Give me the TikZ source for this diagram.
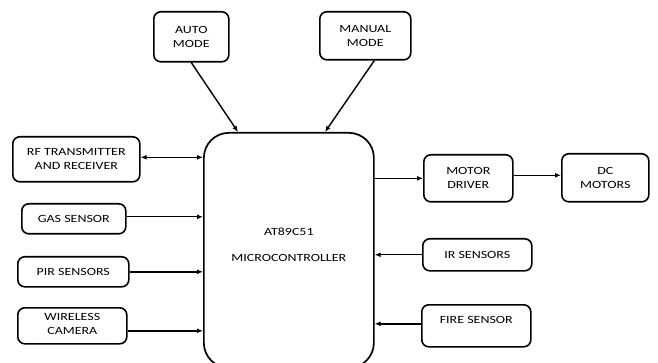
\documentclass[tikz,border=0pt]{standalone}
\usepackage{fontspec}
\setmainfont[FakeStretch=1.27]{Carlito}
\usetikzlibrary{arrows.meta,positioning,calc}

\begin{document}
\begin{tikzpicture}[x=1pt, y=-1pt,
  every node/.style={font=\fontsize{11}{14}\selectfont},
  blok/.style={draw, line width=1.6pt, rounded corners=7pt, align=center,
    anchor=north west, inner sep=0pt},
  mcubox/.style={draw, line width=1.7pt, rounded corners=25pt, align=center,
    anchor=north west, inner sep=0pt, minimum width=170pt, minimum height=235pt},
  pijl/.style={-{Latex[length=6pt, width=5pt]}, line width=1.4pt},
  tweepijl/.style={{Latex[length=6pt, width=5pt]}-{Latex[length=6pt, width=5pt]}, line width=1.4pt}
]
\useasboundingbox (0,0) rectangle (658,363);
% controller in the middle
\node[mcubox, text depth=11pt] (mcu) at (203,132) {AT89C51\\[12pt]MICROCONTROLLER};
% modes on top
\node[blok, minimum width=75pt, minimum height=50pt] (auto) at (153,11) {AUTO\\MODE};
\node[blok, minimum width=91pt, minimum height=48pt] (manual) at (319,11) {MANUAL\\MODE};
% inputs on the left
\node[blok, minimum width=127pt, minimum height=45pt] (rf) at (12,136) {RF TRANSMITTER\\AND RECEIVER};
\node[blok, minimum width=104pt, minimum height=30pt] (gas) at (21,203) {GAS SENSOR};
\node[blok, minimum width=111pt, minimum height=30pt] (pir) at (17,256) {PIR SENSORS};
\node[blok, minimum width=109pt, minimum height=36pt, text height=17pt] (camera) at (17,307) {WIRELESS\\CAMERA};
% right side
\node[blok, minimum width=89pt, minimum height=47pt] (motor) at (423,154) {MOTOR\\DRIVER};
\node[blok, minimum width=87pt, minimum height=48pt] (dc) at (561,153) {DC\\MOTORS};
\node[blok, minimum width=109pt, minimum height=32pt] (ir) at (422,238) {IR SENSORS};
\node[blok, minimum width=109pt, minimum height=42pt, text depth=12pt] (fire) at (421,304) {FIRE SENSOR};
% connections
\draw[pijl] (auto.south) -- ([xshift=35pt]mcu.north west);
\draw[pijl] ([xshift=9pt]manual.south) -- ([xshift=122pt]mcu.north west);
\draw[tweepijl] ([yshift=2pt]rf.east) -- ([yshift=2pt]rf.east -| mcu.west);
\draw[pijl] ([yshift=2pt]gas.east) -- ([yshift=2pt]gas.east -| mcu.west);
\draw[pijl] (pir.east) -- (pir.east -| mcu.west);
\draw[pijl] ([yshift=-5pt]camera.east) -- ([yshift=-5pt]camera.east -| mcu.west);
\draw[pijl] (mcu.east |- motor.west) -- (motor.west);
\draw[pijl] ([yshift=3pt]motor.east) -- ([yshift=3pt]motor.east -| dc.west);
\draw[pijl] (ir.west) -- (ir.west -| mcu.east);
\draw[pijl] ([yshift=2pt]fire.west) -- ([yshift=2pt]fire.west -| mcu.east);
\end{tikzpicture}
\end{document}
